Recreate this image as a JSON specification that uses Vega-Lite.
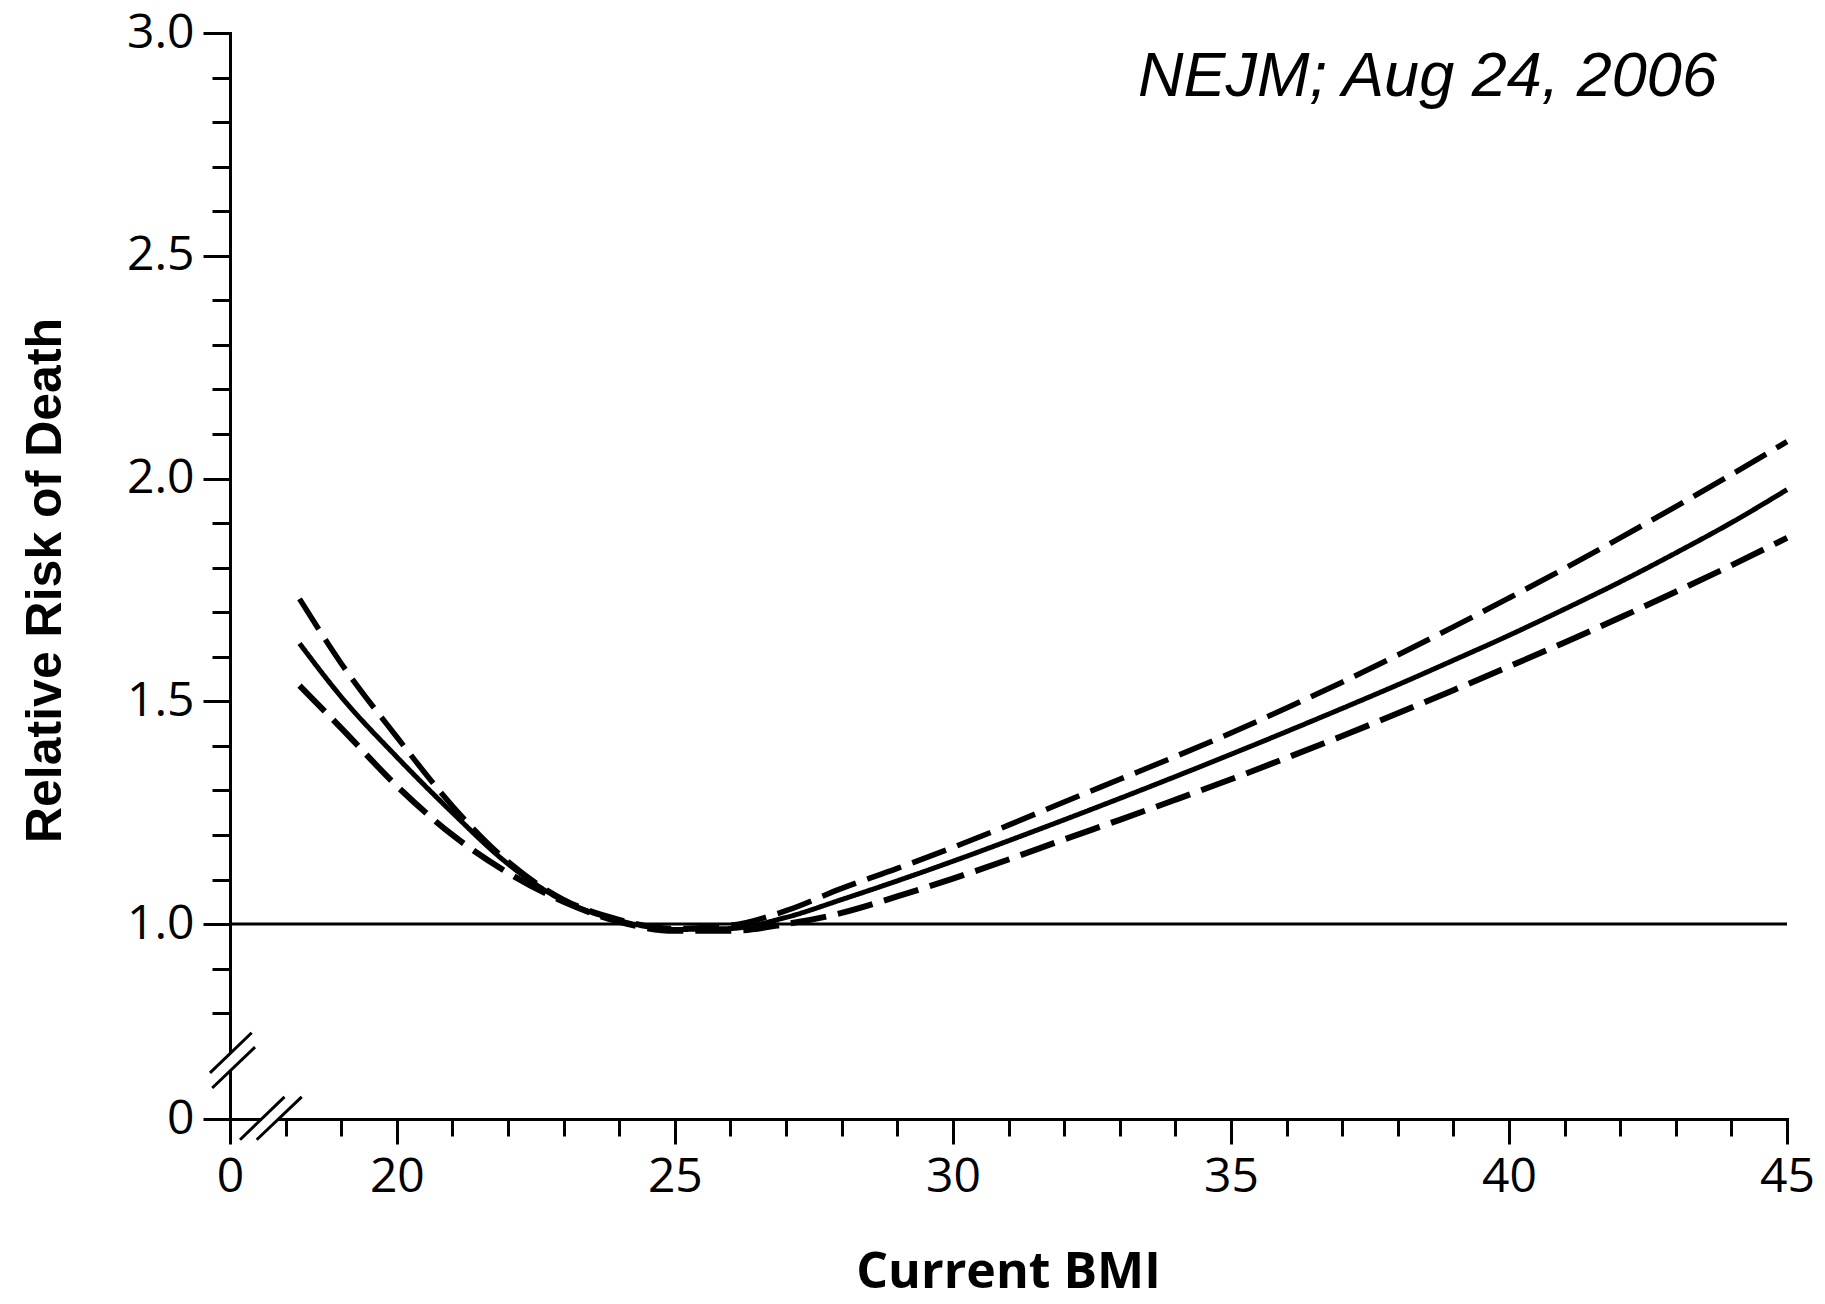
{
  "$schema": "https://vega.github.io/schema/vega-lite/v6.json",
  "width": 1557,
  "height": 1086,
  "autosize": {"type": "none"},
  "padding": {"left": 230, "top": 33, "right": 38, "bottom": 185},
  "background": "white",
  "config": {
    "view": {"stroke": null},
    "axis": {
      "grid": false,
      "domainColor": "black",
      "domainWidth": 3,
      "domainCap": "square",
      "tickColor": "black",
      "tickWidth": 3,
      "labelColor": "black",
      "labelFont": "Open Sans",
      "labelFontSize": 48,
      "labelOverlap": false,
      "labelFlush": false,
      "labelBound": false,
      "titleColor": "black"
    }
  },
  "datasets": {
    "curves": [
      {"x": 18.25, "y": 1.63, "s": "est"},
      {"x": 19, "y": 1.51, "s": "est"},
      {"x": 20, "y": 1.375, "s": "est"},
      {"x": 21, "y": 1.25, "s": "est"},
      {"x": 22, "y": 1.135, "s": "est"},
      {"x": 23, "y": 1.052, "s": "est"},
      {"x": 24, "y": 1.008, "s": "est"},
      {"x": 25, "y": 0.988, "s": "est"},
      {"x": 26, "y": 0.99, "s": "est"},
      {"x": 27, "y": 1.015, "s": "est"},
      {"x": 28, "y": 1.055, "s": "est"},
      {"x": 29, "y": 1.097, "s": "est"},
      {"x": 30, "y": 1.141, "s": "est"},
      {"x": 31, "y": 1.187, "s": "est"},
      {"x": 32, "y": 1.234, "s": "est"},
      {"x": 33, "y": 1.282, "s": "est"},
      {"x": 34, "y": 1.331, "s": "est"},
      {"x": 35, "y": 1.381, "s": "est"},
      {"x": 36, "y": 1.432, "s": "est"},
      {"x": 37, "y": 1.484, "s": "est"},
      {"x": 38, "y": 1.537, "s": "est"},
      {"x": 39, "y": 1.592, "s": "est"},
      {"x": 40, "y": 1.648, "s": "est"},
      {"x": 41, "y": 1.707, "s": "est"},
      {"x": 42, "y": 1.768, "s": "est"},
      {"x": 43, "y": 1.833, "s": "est"},
      {"x": 44, "y": 1.901, "s": "est"},
      {"x": 45, "y": 1.975, "s": "est"},
      {"x": 18.25, "y": 1.73, "s": "upper"},
      {"x": 19, "y": 1.585, "s": "upper"},
      {"x": 20, "y": 1.42, "s": "upper"},
      {"x": 21, "y": 1.265, "s": "upper"},
      {"x": 22, "y": 1.14, "s": "upper"},
      {"x": 23, "y": 1.055, "s": "upper"},
      {"x": 24, "y": 1.01, "s": "upper"},
      {"x": 25, "y": 0.99, "s": "upper"},
      {"x": 26, "y": 0.997, "s": "upper"},
      {"x": 27, "y": 1.03, "s": "upper"},
      {"x": 28, "y": 1.08, "s": "upper"},
      {"x": 29, "y": 1.125, "s": "upper"},
      {"x": 30, "y": 1.172, "s": "upper"},
      {"x": 31, "y": 1.222, "s": "upper"},
      {"x": 32, "y": 1.274, "s": "upper"},
      {"x": 33, "y": 1.325, "s": "upper"},
      {"x": 34, "y": 1.376, "s": "upper"},
      {"x": 35, "y": 1.429, "s": "upper"},
      {"x": 36, "y": 1.485, "s": "upper"},
      {"x": 37, "y": 1.543, "s": "upper"},
      {"x": 38, "y": 1.604, "s": "upper"},
      {"x": 39, "y": 1.667, "s": "upper"},
      {"x": 40, "y": 1.732, "s": "upper"},
      {"x": 41, "y": 1.798, "s": "upper"},
      {"x": 42, "y": 1.867, "s": "upper"},
      {"x": 43, "y": 1.937, "s": "upper"},
      {"x": 44, "y": 2.009, "s": "upper"},
      {"x": 45, "y": 2.083, "s": "upper"},
      {"x": 18.25, "y": 1.535, "s": "lower"},
      {"x": 19, "y": 1.44, "s": "lower"},
      {"x": 20, "y": 1.31, "s": "lower"},
      {"x": 21, "y": 1.2, "s": "lower"},
      {"x": 22, "y": 1.115, "s": "lower"},
      {"x": 23, "y": 1.05, "s": "lower"},
      {"x": 24, "y": 1.005, "s": "lower"},
      {"x": 25, "y": 0.985, "s": "lower"},
      {"x": 26, "y": 0.985, "s": "lower"},
      {"x": 27, "y": 1.0, "s": "lower"},
      {"x": 28, "y": 1.025, "s": "lower"},
      {"x": 29, "y": 1.062, "s": "lower"},
      {"x": 30, "y": 1.102, "s": "lower"},
      {"x": 31, "y": 1.145, "s": "lower"},
      {"x": 32, "y": 1.19, "s": "lower"},
      {"x": 33, "y": 1.234, "s": "lower"},
      {"x": 34, "y": 1.279, "s": "lower"},
      {"x": 35, "y": 1.325, "s": "lower"},
      {"x": 36, "y": 1.373, "s": "lower"},
      {"x": 37, "y": 1.422, "s": "lower"},
      {"x": 38, "y": 1.473, "s": "lower"},
      {"x": 39, "y": 1.525, "s": "lower"},
      {"x": 40, "y": 1.578, "s": "lower"},
      {"x": 41, "y": 1.632, "s": "lower"},
      {"x": 42, "y": 1.688, "s": "lower"},
      {"x": 43, "y": 1.746, "s": "lower"},
      {"x": 44, "y": 1.805, "s": "lower"},
      {"x": 45, "y": 1.867, "s": "lower"}
    ],
    "gaps": [
      {"x": 17, "y": 0.67, "x2": 17, "y2": 0.709},
      {"x": 17.57, "y": 0.5625, "x2": 17.87, "y2": 0.5625}
    ],
    "breaks": [
      {"x": 16.64, "y": 0.666, "x2": 17.39, "y2": 0.756},
      {"x": 16.68, "y": 0.632, "x2": 17.45, "y2": 0.724},
      {"x": 17.18, "y": 0.516, "x2": 17.98, "y2": 0.612},
      {"x": 17.48, "y": 0.516, "x2": 18.29, "y2": 0.612}
    ],
    "ref": [{"y": 1}],
    "note": [{"x": 43.74, "y": 2.858, "t": "NEJM; Aug 24, 2006"}]
  },
  "layer": [
    {
      "data": {"name": "curves"},
      "mark": {"type": "line", "color": "black", "interpolate": "monotone", "strokeCap": "butt"},
      "encoding": {
        "x": {
          "field": "x", "type": "quantitative",
          "scale": {"domain": [17, 45], "nice": false, "zero": false},
          "axis": {
            "values": [17, 18, 19, 20, 21, 22, 23, 24, 25, 26, 27, 28, 29, 30, 31, 32, 33, 34, 35, 36, 37, 38, 39, 40, 41, 42, 43, 44, 45],
            "labelExpr": "datum.value == 17 ? '0' : (datum.value % 5 == 0 ? format(datum.value, 'd') : '')",
            "tickSize": {"condition": {"test": "datum.value == 17 || datum.value % 5 == 0", "value": 25}, "value": 17},
            "labelPadding": 9,
            "title": "Current BMI",
            "titleFont": "Open Sans",
            "titleFontWeight": "bold",
            "titleFontSize": 50,
            "titleBaseline": "alphabetic",
            "titleAnchor": "middle",
            "titleX": 778,
            "titleY": 168
          }
        },
        "y": {
          "field": "y", "type": "quantitative",
          "scale": {"domain": [0.5625, 3], "nice": false, "zero": false},
          "axis": {
            "values": [0.5625, 0.8, 0.9, 1, 1.1, 1.2, 1.3, 1.4, 1.5, 1.6, 1.7, 1.8, 1.9, 2, 2.1, 2.2, 2.3, 2.4, 2.5, 2.6, 2.7, 2.8, 2.9, 3],
            "labelExpr": "datum.value < 0.6 ? '0' : (indexof([1, 1.5, 2, 2.5, 3], datum.value) >= 0 ? format(datum.value, '.1f') : '')",
            "tickSize": {"condition": {"test": "indexof([0.5625, 1, 1.5, 2, 2.5, 3], datum.value) >= 0", "value": 27}, "value": 18},
            "labelPadding": 9,
            "title": "Relative Risk of Death",
            "titleFont": "Liberation Sans",
            "titleFontWeight": "bold",
            "titleFontSize": 50,
            "titleAngle": 270,
            "titleBaseline": "alphabetic",
            "titleAlign": "center",
            "titleX": -170,
            "titleY": 547
          }
        },
        "strokeDash": {
          "field": "s", "type": "nominal",
          "scale": {"domain": ["est", "upper", "lower"], "range": [[1, 0], [36, 12], [36, 12]]},
          "legend": null
        },
        "strokeWidth": {
          "field": "s", "type": "nominal",
          "scale": {"domain": ["est", "upper", "lower"], "range": [5, 6, 6]},
          "legend": null
        }
      }
    },
    {
      "data": {"name": "ref"},
      "mark": {"type": "rule", "color": "black", "strokeWidth": 3},
      "encoding": {
        "y": {"field": "y", "type": "quantitative"}
      }
    },
    {
      "data": {"name": "gaps"},
      "mark": {"type": "rule", "color": "white", "strokeWidth": 6},
      "encoding": {
        "x": {"field": "x", "type": "quantitative"},
        "y": {"field": "y", "type": "quantitative"},
        "x2": {"field": "x2"},
        "y2": {"field": "y2"}
      }
    },
    {
      "data": {"name": "breaks"},
      "mark": {"type": "rule", "color": "black", "strokeWidth": 3},
      "encoding": {
        "x": {"field": "x", "type": "quantitative"},
        "y": {"field": "y", "type": "quantitative"},
        "x2": {"field": "x2"},
        "y2": {"field": "y2"}
      }
    },
    {
      "data": {"name": "note"},
      "mark": {"type": "text", "align": "right", "baseline": "alphabetic", "font": "Liberation Sans", "fontStyle": "italic", "fontSize": 63, "color": "black"},
      "encoding": {
        "x": {"field": "x", "type": "quantitative"},
        "y": {"field": "y", "type": "quantitative"},
        "text": {"field": "t"}
      }
    }
  ]
}
